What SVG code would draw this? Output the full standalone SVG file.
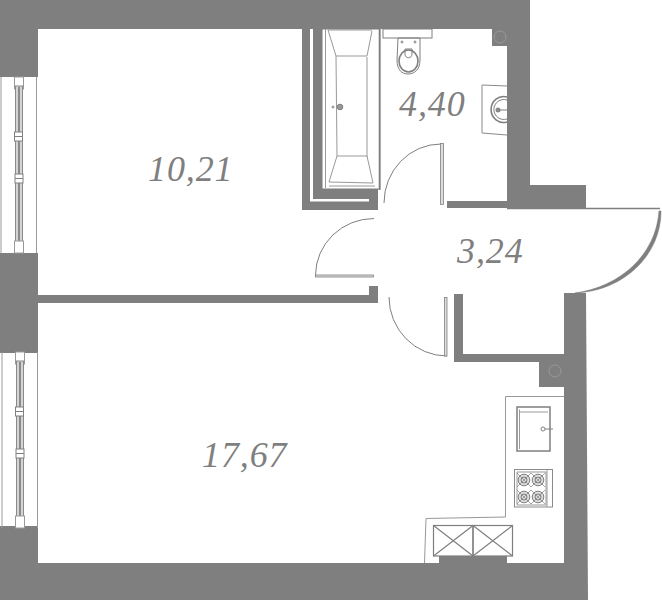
<svg xmlns="http://www.w3.org/2000/svg" width="662" height="600" viewBox="0 0 662 600">
<style>
.w{fill:#7f7f7f}
.l{fill:none;stroke:#7f7f7f;stroke-width:1}
.t{fill:none;stroke:#999;stroke-width:1}
.b{fill:none;stroke:#7f7f7f;stroke-width:1.6}
.g{fill:#fff;stroke:#8a8a8a;stroke-width:1}
.a{font-family:"Liberation Serif",serif;font-style:italic;font-size:36px;fill:#7f7f7f;letter-spacing:.9px}
</style>
<defs>
<g id="win">
<path class="t" d="M1 0V176M36.500 0V176"/>
<rect x="14.500" y="0" width="9" height="12" fill="#fff" stroke="#999"/>
<rect x="15.500" y="9" width="7" height="158" fill="#d4d4d4" stroke="#8a8a8a"/>
<path d="M19 10V166" stroke="#8a8a8a" stroke-width="2"/>
<rect x="14.500" y="164" width="9" height="12" fill="#fff" stroke="#999"/>
<rect x="14.500" y="55" width="8" height="9" fill="#fff" stroke="#808080"/>
<path d="M14.500 59.500H22.500" stroke="#808080"/>
<rect x="15" y="97" width="8" height="9" fill="#fff" stroke="#808080"/>
<path d="M15 101.500H23" stroke="#808080"/>
</g>
<g id="burner">
<circle r="5.800" fill="#ddd" stroke="#7f7f7f"/>
<circle r="3" fill="none" stroke="#7f7f7f"/>
<path d="M-7-7L7 7M-7 7L7-7" stroke="#7f7f7f" stroke-width=".7"/>
</g>
</defs>
<rect width="662" height="600" fill="#fff"/>

<g id="walls">
<path class="w" d="M0 0H530V208H507V29H38V77H0Z"/>
<rect class="w" x="507" y="185" width="79" height="23"/>
<rect class="w" x="447" y="201" width="62" height="7"/>
<rect class="w" x="0" y="253" width="38" height="100"/>
<path class="w" d="M38 295H369V286H378V303H38Z"/>
<path class="w" d="M0 526H38V563H564V293H586L588 600H0Z"/>
<path class="w" d="M454 294H463V354H565V362H454Z"/>
<rect class="w" x="539" y="362" width="26" height="25"/>
<rect class="w" x="492" y="29" width="15" height="17"/>
<rect class="w" x="302" y="29" width="8" height="181"/>
<path class="w" d="M313 29H322V189H378V210H302V201.500H369V199H313Z"/>
<path class="w" d="M439 556H507V563H439Z"/>
<circle cx="500" cy="37" r="6" fill="none" stroke="#999"/>
<circle cx="555" cy="371" r="6" fill="none" stroke="#999"/>
</g>

<g id="windows">
<use href="#win" x="0" y="77"/>
<use href="#win" x="1" y="352"/>
</g>

<g id="bath">
<rect x="322" y="29" width="58" height="160" fill="#fff" stroke="#7f7f7f"/>
<path class="t" d="M325.500 29V188M328 30L336 56H367L372 31M328 30H372M336 56L337 156M367 57V157M337 156H367L373 183M337 156L329 182L373 183M329 186H375"/>
<path class="b" d="M379.500 29V190"/>
<circle cx="340" cy="107" r="2.800" fill="#999" stroke="#7f7f7f"/>
<circle cx="333" cy="107" r="1" fill="none" stroke="#7f7f7f"/>
</g>

<g id="toilet">
<rect x="383" y="29" width="49" height="9" fill="#fff" stroke="#7f7f7f"/>
<path class="l" d="M398 38H420V60C420 70 414 74 408 74C402 74 397 70 397 60Z"/>
<ellipse cx="408.500" cy="61" rx="9.500" ry="11" fill="#fff" stroke="#7f7f7f" stroke-width="1.600"/>
<path class="l" d="M405 49V54C405 59 412 59 412 54V49Z"/>
<circle cx="402" cy="42" r="1" class="l"/>
<circle cx="415" cy="42" r="1" class="l"/>
</g>

<g id="basin">
<path class="g" d="M507 86L482 85V133L507 135"/>
<path class="b" d="M507 97A12.500 13 0 1 0 507 122"/>
<path class="l" d="M507 100A10 10 0 1 0 507 119"/>
<circle cx="498" cy="110" r="2.500" fill="#8a8a8a"/>
<path class="l" d="M498 110H507"/>
</g>

<g id="doors">
<path class="l" d="M441 144A57 59 0 0 0 384 203"/>
<rect x="440.500" y="143.500" width="3" height="61" fill="#ddd" stroke="#7f7f7f" stroke-width=".8"/>
<path class="l" d="M374 218.500A58.500 57 0 0 0 315.500 275"/>
<rect x="315.500" y="275" width="58" height="2" fill="#ddd" stroke="#7f7f7f" stroke-width=".8"/>
<path class="l" d="M389 297A58 59 0 0 0 447 356"/>
<rect x="444.500" y="297.500" width="2.500" height="58.500" fill="#ddd" stroke="#7f7f7f" stroke-width=".8"/>
<path class="b" d="M507 208.500H660"/>
<path class="w" d="M659 211H661C661 255 624 291 575 293C620 287 656 255 659 211Z" stroke="#7f7f7f" stroke-width=".6"/>
</g>

<g id="kitchen">
<path class="t" d="M564 396.500H505.500V517L426 518.500L424.500 563"/>
<rect x="517" y="407" width="33" height="44" fill="#fff" stroke="#7f7f7f" stroke-width="1.500"/>
<path class="t" d="M519.500 412H548M519.500 409.500V449"/>
<circle cx="543" cy="429" r="2" class="l"/>
<path class="l" d="M545 429H553"/>
<rect x="514.500" y="469.500" width="38" height="37.500" fill="#fff" stroke="#8a8a8a"/>
<path class="t" d="M547 470V507M517 472H546V505H517Z"/>
<use href="#burner" x="524" y="480"/>
<use href="#burner" x="538" y="480"/>
<use href="#burner" x="524" y="497"/>
<use href="#burner" x="538" y="497"/>
<g fill="none" stroke="#7f7f7f" stroke-width="1.200">
<rect x="433.500" y="525.500" width="39.500" height="30.500"/>
<rect x="473" y="525.500" width="39.500" height="30.500"/>
<path d="M433.500 525.500L473 556M433.500 556L473 525.500M473 525.500L512.500 556M473 556L512.500 525.500"/>
</g>
</g>

<g id="labels">
<text class="a" x="148" y="181">10,21</text>
<text class="a" x="399" y="116">4,40</text>
<text class="a" x="457" y="263">3,24</text>
<text class="a" x="202" y="467">17,67</text>
</g>
</svg>
